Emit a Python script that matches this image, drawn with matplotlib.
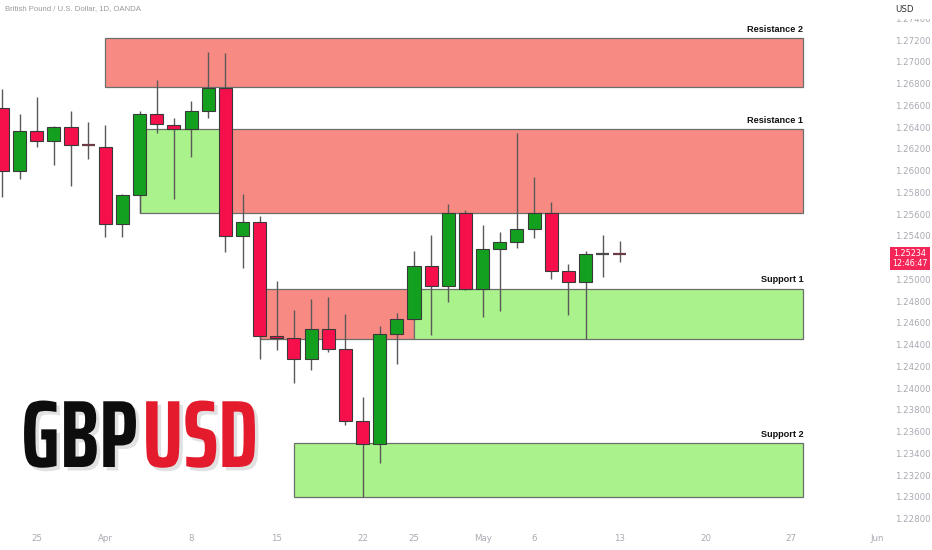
import os
import numpy as np
import matplotlib
matplotlib.use('Agg')
import matplotlib.pyplot as plt
from matplotlib.patches import Rectangle
from matplotlib import font_manager as fm
from matplotlib.font_manager import FontProperties
import matplotlib.patheffects as pe

# ---------------- data ----------------
bar_idx = list(range(-6, 31))
opens = [1.26572, 1.25998, 1.26363, 1.26274, 1.26397, 1.26235, 1.26219, 1.25511,
         1.25775, 1.26517, 1.26418, 1.26379, 1.26547, 1.26761, 1.25401, 1.25524,
         1.24481, 1.24457, 1.24264, 1.24545, 1.24356, 1.23697, 1.23488, 1.24499,
         1.24635, 1.25125, 1.24938, 1.25609, 1.24913, 1.25281, 1.25343, 1.25465,
         1.25612, 1.25073, 1.24972, 1.25233, 1.25236]
highs = [1.26747, 1.26520, 1.26673, 1.26409, 1.26547, 1.26446, 1.26416, 1.25781,
         1.26550, 1.26832, 1.26480, 1.26636, 1.27090, 1.27078, 1.25784, 1.25582,
         1.24984, 1.24715, 1.24819, 1.24840, 1.24678, 1.23915, 1.24573, 1.24687,
         1.25260, 1.25407, 1.25689, 1.25637, 1.25496, 1.25437, 1.26342, 1.25938,
         1.25708, 1.25138, 1.25257, 1.25404, 1.25352]
lows = [1.25754, 1.25919, 1.26219, 1.26053, 1.25858, 1.26103, 1.25391, 1.25391,
        1.25612, 1.26348, 1.25735, 1.26127, 1.26486, 1.25251, 1.25106, 1.24264,
        1.24352, 1.24049, 1.24166, 1.24331, 1.23663, 1.22998, 1.23308, 1.24224,
        1.24630, 1.24487, 1.24794, 1.24901, 1.24656, 1.24711, 1.25287, 1.25382,
        1.25002, 1.24674, 1.24448, 1.25024, 1.25161]
closes = [1.25998, 1.26363, 1.26274, 1.26397, 1.26235, 1.26228, 1.25511, 1.25772,
          1.26517, 1.26425, 1.26379, 1.26547, 1.26761, 1.25401, 1.25524, 1.24481,
          1.24457, 1.24264, 1.24545, 1.24362, 1.23699, 1.23488, 1.24494, 1.24632,
          1.25125, 1.24938, 1.25609, 1.24913, 1.25281, 1.25343, 1.25465, 1.25612,
          1.25076, 1.24972, 1.25230, 1.25236, 1.25234]

zone_labels = ['Resistance 2', 'Resistance 1', 'Support 1', 'Support 2']
zone_start = [0, 7, 18, 11]
zone_end = [40.7, 40.7, 40.7, 40.7]
zone_top = [1.27218, 1.26382, 1.24915, 1.23494]
zone_bottom = [1.26768, 1.25609, 1.24451, 1.22998]
zone_kind = ['res', 'res', 'sup', 'sup']

flip_start = [2, 9]
flip_end = [7, 18]
flip_top = [1.26382, 1.24915]
flip_bottom = [1.25609, 1.24451]
flip_kind = ['sup', 'res']

date_tick_idx = [-4, 0, 5, 10, 15, 18, 22, 25, 30, 35, 40, 45]
date_tick_labels = ['25', 'Apr', '8', '15', '22', '25', 'May', '6', '13', '20', '27', 'Jun']

price_ticks = [1.22800, 1.23000, 1.23200, 1.23400, 1.23600, 1.23800, 1.24000,
               1.24200, 1.24400, 1.24600, 1.24800, 1.25000, 1.25200, 1.25400,
               1.25600, 1.25800, 1.26000, 1.26200, 1.26400, 1.26600, 1.26800,
               1.27000, 1.27200, 1.27400]
hidden_tick = 1.25200  # covered by the last-price tag in the reference
last_price = '1.25234'
countdown = '12:46:47'
title_text = 'British Pound / U.S. Dollar, 1D, OANDA'

# ---------------- style ----------------
W, H = 932, 550
GREEN = '#14A01F'
RED = '#F5104B'
EDGE = '#3a3a3a'
WICK = '#5a5a5a'
RES_FILL = '#F88A84'
SUP_FILL = '#AAF28B'
ZONE_EDGE = '#6b6f6b'
AXIS_TXT = '#a8aab2'

fig = plt.figure(figsize=(W / 100, H / 100), dpi=100)
fig.patch.set_facecolor('white')
ax = fig.add_axes([0, 23 / H, 886 / W, 527 / H])
ax.set_facecolor('white')
ax.set_xlim(-6.14, 45.52)
ax.set_ylim(1.22722, 1.27568)

# zones
for xs, xe, t, b, k in zip(flip_start, flip_end, flip_top, flip_bottom, flip_kind):
    ax.add_patch(Rectangle((xs, b), xe - xs, t - b,
                           facecolor=RES_FILL if k == 'res' else SUP_FILL,
                           edgecolor=ZONE_EDGE, linewidth=0.9, zorder=1))
for lab, xs, xe, t, b, k in zip(zone_labels, zone_start, zone_end, zone_top, zone_bottom, zone_kind):
    ax.add_patch(Rectangle((xs, b), xe - xs, t - b,
                           facecolor=RES_FILL if k == 'res' else SUP_FILL,
                           edgecolor=ZONE_EDGE, linewidth=0.9, zorder=1.5))
    ax.annotate(lab, xy=(xe, t), xytext=(0, 3), textcoords='offset points',
                ha='right', va='bottom', fontsize=6.6, fontweight='bold',
                family='Liberation Sans', color='#111111', zorder=6)

# candles
x = np.array(bar_idx, dtype=float)
o = np.array(opens); h = np.array(highs); l = np.array(lows); c = np.array(closes)
up = c >= o
ax.vlines(x, l, h, color=WICK, linewidth=1.0, zorder=3)
body_w = 0.76
min_body = 0.00012
bottoms = np.minimum(o, c)
heights = np.abs(c - o)
for xi, bi, hi, u, oi, ci in zip(x, bottoms, heights, up, o, c):
    if hi < min_body:
        col = '#6a3b44' if ci < oi else '#4a4a4a'
        ax.hlines((oi + ci) / 2, xi - body_w / 2, xi + body_w / 2, color=col,
                  linewidth=1.6, zorder=4)
    else:
        ax.add_patch(Rectangle((xi - body_w / 2, bi), body_w, hi,
                               facecolor=GREEN if u else RED, edgecolor=EDGE,
                               linewidth=0.8, zorder=4))

# axes styling
for s in ax.spines.values():
    s.set_visible(False)
ax.yaxis.tick_right()
ax.set_yticks(price_ticks)
ax.set_yticklabels(['' if abs(p - hidden_tick) < 1e-9 else f'{p:.5f}' for p in price_ticks])
ax.tick_params(axis='y', length=0, pad=6.5, labelsize=6.2, labelcolor=AXIS_TXT)
for t in ax.get_yticklabels():
    t.set_horizontalalignment('left')
ax.set_xticks(date_tick_idx)
ax.set_xticklabels(date_tick_labels)
ax.tick_params(axis='x', length=0, pad=5, labelsize=6.2, labelcolor=AXIS_TXT)

# header / axis extras
fig.add_artist(Rectangle((888 / W, 1 - 19 / H), 44 / W, 19 / H, transform=fig.transFigure,
                         facecolor='white', edgecolor='none', zorder=5))
fig.text(905 / W, 1 - 9.5 / H, 'USD', ha='center', va='center', fontsize=6.2,
         color='#333333', zorder=6)
fig.text(5 / W, 1 - 9 / H, title_text, ha='left', va='center', fontsize=5.6,
         family='Liberation Sans', color='#9a9a9a', zorder=6)
fig.text(910 / W, 1 - 258.5 / H, f'{last_price}\n{countdown}', ha='center', va='center',
         fontsize=5.8, linespacing=1.0, color='white', zorder=7,
         bbox=dict(boxstyle='square,pad=0.3', facecolor='#F42657', edgecolor='none'))

# ---------------- big GBPUSD text ----------------
r = fig.canvas.get_renderer()
TARGET_W, TARGET_CAP = 237.0, 69.0
target_ratio = TARGET_W / TARGET_CAP


def cap_height(path):
    try:
        from matplotlib.ft2font import FT2Font
        ft = FT2Font(path)
        os2 = ft.get_sfnt_table('OS/2')
        if os2 and os2.get('sCapHeight', 0) > 0:
            return os2['sCapHeight'] / ft.units_per_EM
    except Exception:
        pass
    return 0.72


best = None
for f in fm.fontManager.ttflist:
    b = os.path.basename(f.fname).lower()
    if 'italic' in b or 'oblique' in b or 'mono' in b or 'serif' in b.replace('sans', ''):
        continue
    if 'bold' not in b or 'semibold' in b or 'cjk' in b:
        continue
    try:
        prop = FontProperties(fname=f.fname, size=100)
        wpx, hpx, dpx = r.get_text_width_height_descent('GBPUSD', prop, ismath=False)
    except Exception:
        continue
    capr = cap_height(f.fname)
    em_px = 100 * 100 / 72
    ratio = (wpx + 0.05 * em_px) / (capr * em_px)
    err = abs(np.log(ratio / target_ratio))
    if 'condensed' in b or 'narrow' in b:
        err -= 0.03
    if best is None or err < best[0]:
        best = (err, f.fname, capr)

if best:
    fp = FontProperties(fname=best[1])
    cap = best[2]
else:
    fp = FontProperties(family='DejaVu Sans', weight='bold')
    cap = 0.73

shadow = [pe.SimplePatchShadow(offset=(2.5, -2.5), shadow_rgbFace='#888888', alpha=0.25), pe.Normal()]
x0_px, base_px = 21, 467
t1 = fig.text(x0_px / W, 1 - base_px / H, 'GBP', fontproperties=fp, fontsize=60,
              color='#0d0d0d', ha='left', va='baseline', zorder=6, path_effects=shadow)
t2 = fig.text(0.5, 1 - base_px / H, 'USD', fontproperties=fp, fontsize=60,
              color='#E41B2C', ha='left', va='baseline', zorder=6, path_effects=shadow)
w1 = t1.get_window_extent(r).width
w2 = t2.get_window_extent(r).width
gap_em = 0.05
em_px60 = 60 * 100 / 72
size_w = 60 * TARGET_W / (w1 + w2 + gap_em * em_px60)
size_h = TARGET_CAP / cap * 72 / 100
size = min(size_w, size_h)
t1.set_fontsize(size)
t2.set_fontsize(size)
w1 = t1.get_window_extent(r).width
t2.set_x((x0_px + w1 + gap_em * size * 100 / 72) / W)

fig.savefig('out.png', dpi=100, facecolor='white')
